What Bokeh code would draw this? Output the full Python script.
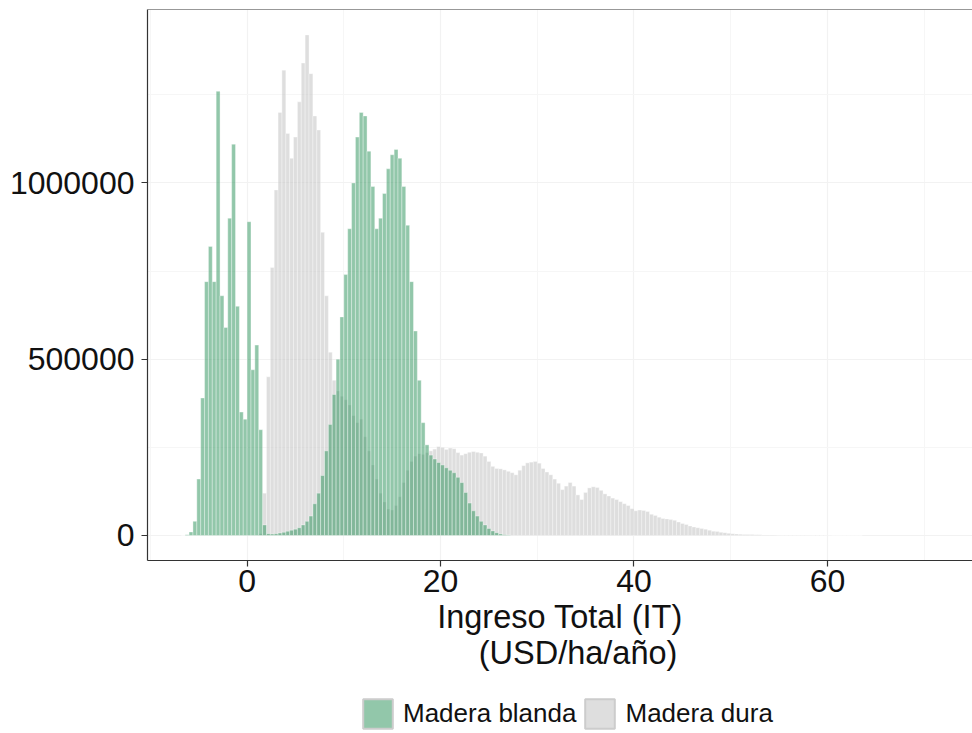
import numpy as np
from bokeh.plotting import figure
from bokeh.layouts import column
from bokeh.models import (Range1d, FixedTicker, NumeralTickFormatter, Legend, LegendItem,
                          Span, ColumnDataSource)
from bokeh.embed import file_html
from bokeh.resources import INLINE

# ---------------- data (counts per bin, thousands) ----------------
bin_width = 0.4
blanda_start = -6.8
blanda_k = [0, 2, 10, 40, 160, 390, 720, 820, 720, 1260, 680, 590, 900, 1110, 650, 350,
            330, 890, 470, 540, 300, 30, 5, 4, 5, 7, 9, 12, 15, 18, 22, 30, 40, 55, 90,
            120, 170, 240, 315, 400, 500, 620, 740, 870, 1000, 1130, 1200, 1190, 1090,
            990, 870, 900, 970, 1040, 1080, 1095, 1070, 990, 880, 720, 580, 440, 320, 257,
            228, 217, 207, 200, 192, 185, 178, 165, 150, 122, 92, 70, 55, 40, 30, 20, 13,
            8, 4, 2, 1]

dura_start = 1.2
dura_k = [5, 120, 450, 760, 980, 1200, 1320, 1140, 1070, 1130, 1230, 1340, 1420, 1310,
          1190, 1150, 860, 680, 520, 440, 410, 395, 385, 370, 340, 320, 330, 280, 240,
          200, 160, 120, 95, 75, 72, 85, 110, 150, 185, 210, 225, 232, 230, 235, 240,
          245, 252, 250, 244, 248, 246, 235, 228, 232, 236, 238, 236, 234, 225, 210, 196,
          190, 189, 186, 182, 178, 172, 185, 198, 206, 208, 210, 205, 190, 180, 172, 160,
          148, 130, 140, 150, 140, 115, 102, 122, 135, 138, 136, 128, 118, 112, 106, 102,
          96, 90, 85, 76, 70, 72, 71, 68, 60, 57, 52, 48, 47, 45, 43, 38, 34, 31, 27, 24,
          22, 20, 18, 15, 12, 11, 9, 8, 6, 5, 4, 3.5, 3, 3, 2.5, 2, 2, 1.6, 1.4, 1.2, 1.0,
          0.9, 0.8, 0.8, 0.7, 0.6, 0.6, 0.5, 0.5, 0.5, 0.4, 0.4, 0.3, 0.3, 0.3, 0.2, 0.2,
          0.2, 0.2, 0.1, 0.1, 0.1, 0.1]

series_labels = ["Madera blanda", "Madera dura"]
x_ticks = [0, 20, 40, 60]
y_ticks = [0, 500000, 1000000]
x_title = "Ingreso Total (IT)\n\u00a0\u00a0\u00a0\u00a0(USD/ha/año)"

GREEN = "#258F55"
GRAY = "#BEBEBE"
FONT = "Liberation Sans"


def make_source(start, vals):
    left = start + bin_width * np.arange(len(vals))
    return ColumnDataSource(dict(left=left, right=left + bin_width,
                                 top=np.array(vals, dtype=float) * 1000.0))


src_blanda = make_source(blanda_start, blanda_k)
src_dura = make_source(dura_start, dura_k)

p = figure(width=972, height=693, output_backend="svg", toolbar_location=None,
           x_range=Range1d(-10.3, 75.0), y_range=Range1d(-71000, 1492000),
           min_border_left=147, min_border_right=0, min_border_top=9, min_border_bottom=133)

p.outline_line_color = None
p.background_fill_color = "white"

# grid
p.xaxis.ticker = FixedTicker(ticks=x_ticks, minor_ticks=[-10, 10, 30, 50, 70])
p.yaxis.ticker = FixedTicker(ticks=y_ticks, minor_ticks=[250000, 750000, 1250000])
for g in (p.xgrid, p.ygrid):
    g.grid_line_color = "#F2F2F2"
    g.grid_line_width = 1.2
    g.minor_grid_line_color = "#F6F6F6"
    g.minor_grid_line_width = 1

# bars
r_dura = p.quad(left="left", right="right", top="top", bottom=0, source=src_dura,
                fill_color=GRAY, fill_alpha=0.5, line_color="white", line_alpha=0.6,
                line_width=0.6)
r_blanda = p.quad(left="left", right="right", top="top", bottom=0, source=src_blanda,
                  fill_color=GREEN, fill_alpha=0.5, line_color="white", line_alpha=0.6,
                  line_width=0.6)

# axes
for ax in (p.xaxis, p.yaxis):
    ax.axis_line_color = "#333333"
    ax.axis_line_width = 1.2
    ax.major_tick_line_color = "#333333"
    ax.major_tick_line_width = 1.2
    ax.major_tick_in = 0
    ax.major_tick_out = 6
    ax.minor_tick_line_color = None
    ax.major_label_text_font = FONT
    ax.major_label_text_font_size = "32px"
    ax.major_label_text_color = "#111111"
p.yaxis.formatter = NumeralTickFormatter(format="0")
p.xaxis.major_label_standoff = 3
p.yaxis.major_label_standoff = 7

p.xaxis.axis_label = x_title
p.xaxis.axis_label_text_font = FONT
p.xaxis.axis_label_text_font_size = "32.5px"
p.xaxis.axis_label_text_font_style = "normal"
p.xaxis.axis_label_text_color = "#111111"
p.xaxis.axis_label_text_line_height = 1.0
p.xaxis.axis_label_standoff = 4

# top border
p.add_layout(Span(location=1492000, dimension="width", line_color="#333333", line_width=1.2))

# ---------------- legend strip ----------------
leg = figure(width=972, height=40, output_backend="svg", toolbar_location=None,
             x_range=Range1d(0, 1), y_range=Range1d(0, 1),
             x_axis_location=None, y_axis_location=None,
             min_border_left=0, min_border_right=0, min_border_top=0, min_border_bottom=0)
leg.outline_line_color = None
leg.grid.visible = False
lg_b = leg.quad(left=[5], right=[6], top=[6], bottom=[5], fill_color=GREEN, fill_alpha=0.5,
                line_color="#CCCCCC", line_width=2)
lg_d = leg.quad(left=[5], right=[6], top=[6], bottom=[5], fill_color=GRAY, fill_alpha=0.5,
                line_color="#CCCCCC", line_width=2)
legend = Legend(items=[LegendItem(label=series_labels[0], renderers=[lg_b]),
                       LegendItem(label=series_labels[1], renderers=[lg_d])],
                orientation="horizontal", location=(212, 1),
                glyph_width=37, glyph_height=37, label_text_font=FONT,
                label_text_font_size="26px", label_text_color="#111111",
                label_standoff=7, spacing=5, padding=0, margin=0,
                border_line_color=None, background_fill_alpha=0)
leg.add_layout(legend, "center")

open("out.html", "w").write(file_html(column(p, leg, spacing=0), INLINE))
